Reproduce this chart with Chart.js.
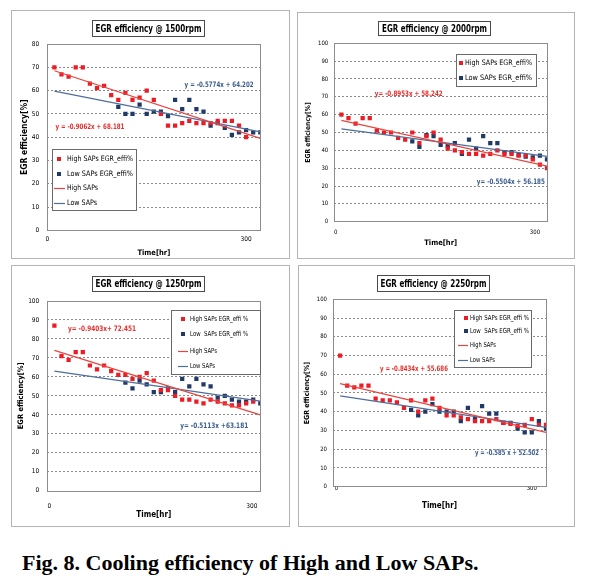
<!DOCTYPE html>
<html>
<head>
<meta charset="utf-8">
<script src="https://cdn.jsdelivr.net/npm/chart.js@4.4.1/dist/chart.umd.min.js"></script>
<style>
  html, body { margin: 0; padding: 0; background: #fff; }
  #page { position: relative; width: 594px; height: 588px; overflow: hidden; background: #fff; }
  .panel { position: absolute; }
  #caption { position: absolute; left: 22px; top: 552px; font: bold 22px 'Liberation Serif', 'Times New Roman', serif; line-height: 22px; white-space: nowrap; color: #000; }
</style>
</head>
<body>
<div id="page">
  <div class="panel" style="left:11px;top:10px;width:279px;height:249px"><canvas id="c1500"></canvas></div>
  <div class="panel" style="left:297px;top:12px;width:278px;height:247px"><canvas id="c2000"></canvas></div>
  <div class="panel" style="left:11px;top:265px;width:279px;height:262px"><canvas id="c1250"></canvas></div>
  <div class="panel" style="left:298px;top:265px;width:277px;height:262px"><canvas id="c2250"></canvas></div>
  <div id="caption">Fig. 8. Cooling efficiency of High and Low SAPs.</div>
</div>
<script>
// measurement times (hr)
const hours = [10, 20, 30, 40, 50, 60, 70, 80, 90, 100, 110, 120, 130, 140, 150,
               160, 170, 180, 190, 200, 210, 220, 230, 240, 250, 260, 270, 280, 290, 300];

// EGR efficiency [%], null = no point at that time
const high1500 = [70, 67, 66, 70, 70, 63, 61, 62, 58, 56, 59, 56, 57, 60, 56,
                  50, 45, 45, 46, 47, 46, 46, 46, 47, 47, 47, 45, 40, null, null];
const low1500 = [null, null, null, null, null, null, null, null, null, 53, 50, 50, 54, 50, 51,
                 51, 49, 56, 52, 56, 52, 51, 45, 46, 44, 41, 42, 43, 42, 42];

const high2000 = [60, 58, 55, 58, 58, 51, 50, 50, 47, 46, 50, 44, 48, 50, 46,
                  41, 40, 39, 38, 38, 37, 38, 40, 38, 38, 37, 37, 35, 32, 30];
const low2000 = [null, null, null, null, null, null, null, null, null, null, 45, 42, 48.5, 48, 43,
                 42.5, 44, 38, 46, 41, 48, 44, 44, 39, 39, 37.5, 36.5, 36, 37, 35];

const high1250 = [87, 71, 69, 73, 73, 66, 64, 66, 63, 61, 61, 59, 60, 62, 58,
                  53, 53, 50, 48, 48, 47, 46, 48, 47, 46, 45, 45, 46, 47, null];
const low1250 = [null, null, null, null, null, null, null, null, null, null, 57, 54, 58, 56, 52,
                 52, 54, 52, 59, 55, 59, 56, 55, 49, 50, 48, 47, 47, 48, 46];

const high2250 = [70, 54, 53, 54, 54, 47, 46, 46, 45, 42, 46, 40, 46, 47, 42,
                  38, 38, 37, 36, 35, 35, 35, 36, 34, 33.5, 32.5, 33, 36, 33, 33];
const low2250 = [null, null, null, null, null, null, null, null, null, null, 41, 38, 40, 44, 40,
                 40, 40, 35, 42, 36, 43, 39, 39, 34, 34, 31, 29, 29, 35, 31];

// linear trend lines, value at first and last time
const trendHours = [10, 300];
const highTrend1500 = [68.5, 39.5];
const lowTrend1500 = [59.8, 42.3];
const highTrend2000 = [56.8, 31.1];
const lowTrend2000 = [52, 36.6];
const highTrend1250 = [74, 40];
const lowTrend1250 = [63, 47.2];
const highTrend2250 = [55, 29];
const lowTrend2250 = [48.5, 31.7];

const eq1500 = ['y = -0.9062x + 68.181', 'y = -0.5774x + 64.202'];
const eq2000 = ['y= -0.8953x + 58.242', 'y= -0.5504x + 56.185'];
const eq1250 = ['y= -0.9403x+ 72.451', 'y= -0.5113x +63.181'];
const eq2250 = ['y = -0.8434x + 55.686', 'y = -0.585 x + 52.502'];

const xTickLabels = ['0', '300'];
const yStep = 10;

const RED = '#ec1c24', NAVY = '#1f3a68';
const RED_LINE = '#e8453f', BLUE_LINE = '#4f6e9c';
const FONT = "'Liberation Sans Narrow', 'DejaVu Sans Condensed', 'Liberation Sans', Arial, sans-serif";

function toPoints(xs, ys) {
  return xs.map((x, i) => ({ x: x, y: ys[i] })).filter(d => d.y !== null);
}

const panels = [
  { id: 'c1500', title: 'EGR efficiency @ 1500rpm', yMax: 80,
    high: high1500, low: low1500, highTrend: highTrend1500, lowTrend: lowTrend1500, eq: eq1500,
    names: ['High SAPs EGR_effi%', 'Low SAPs EGR_effi%', 'High SAPs', 'Low SAPs'],
    area: { l: 36.3, t: 34, r: 29.7, b: 28.7 }, xTicks: [0, 280], xTickPad: 5, xTitlePad: 1.6,
    yTickPad: 8, yTitlePad: 8.6, tickSize: 6.5, yTitleSize: 8.5, xTitleSize: 7.5,
    titleBox: { x: 81, y: 10, w: 112, h: 16, w2: 106 },
    legend: { x: 41, y: 139, w: 84, h: 61, rows: [149, 164, 178, 193], markX: 48, lx0: 43, lx1: 54, textX: 56, widths: [66, 66, 31, 30], size: 7.5 },
    eqAt: [[60, 44.4, 69], [242, 62.4, 69]] },
  { id: 'c2000', title: 'EGR efficiency @ 2000rpm', yMax: 100,
    high: high2000, low: low2000, highTrend: highTrend2000, lowTrend: lowTrend2000, eq: eq2000,
    names: ['High SAPs EGR_effi%', 'Low SAPs EGR_effi%'],
    area: { l: 37.3, t: 31.3, r: 28, b: 37.3 }, xTicks: [2, 283], xTickPad: 7, xTitlePad: 11.6,
    yTickPad: 6, yTitlePad: 7.6, tickSize: 6, yTitleSize: 6.8, xTitleSize: 7.5,
    titleBox: { x: 81, y: 9, w: 112, h: 14, w2: 105 },
    legend: { x: 159, y: 42, w: 80, h: 32, rows: [51, 66], markX: 164, lx0: 160, lx1: 168, textX: 168, widths: [67, 67], size: 7.5 },
    eqAt: [[105, 71.6, 68], [249, 22.3, 68]] },
  { id: 'c1250', title: 'EGR efficiency @ 1250rpm', yMax: 100,
    high: high1250, low: low1250, highTrend: highTrend1250, lowTrend: lowTrend1250, eq: eq1250,
    names: ['High SAPs EGR_effi %', 'Low  SAPs EGR_effi %', 'High SAPs', 'Low SAPs'],
    area: { l: 36.3, t: 36, r: 29.7, b: 36.3 }, xTicks: [3, 288], xTickPad: 12, xTitlePad: 6.9,
    yTickPad: 8, yTitlePad: 5.5, tickSize: 6.5, yTitleSize: 7.5, xTitleSize: 8,
    titleBox: { x: 81, y: 11, w: 112, h: 15, w2: 106 },
    legend: { x: 160, y: 45, w: 89, h: 64, rows: [54, 69, 86, 101], markX: 172, lx0: 167, lx1: 177, textX: 179, widths: [58, 58, 27, 25], size: 7 },
    eqAt: [[77, 85.2, 68], [235, 34.1, 68]] },
  { id: 'c2250', title: 'EGR efficiency @ 2250rpm', yMax: 100,
    high: high2250, low: low2250, highTrend: highTrend2250, lowTrend: lowTrend2250, eq: eq2250,
    names: ['High SAPs EGR_effi %', 'Low  SAPs EGR_effi %', 'High SAPs', 'Low SAPs'],
    area: { l: 35, t: 34.3, r: 29, b: 40.3 }, xTicks: [5, 280], xTickPad: -2, xTitlePad: 16.2,
    yTickPad: 6, yTitlePad: 4.8, tickSize: 6, yTitleSize: 7, xTitleSize: 8,
    titleBox: { x: 79, y: 10, w: 112, h: 16, w2: 106 },
    legend: { x: 156, y: 45, w: 77, h: 57, rows: [53, 66, 80, 95], markX: 168, lx0: 160, lx1: 170, textX: 172, widths: [59, 59, 26, 25], size: 7 },
    eqAt: [[114, 62.8, 68], [245, 18, 64]] }
];

function makeDecor(p) {
  return {
    id: 'decor',
    beforeDraw(chart) {
      const ctx = chart.ctx;
      ctx.save();
      ctx.fillStyle = '#fff';
      ctx.fillRect(0, 0, chart.width, chart.height);
      ctx.strokeStyle = '#b4b4b4';
      ctx.lineWidth = 1;
      ctx.strokeRect(0.5, 0.5, chart.width - 1, chart.height - 1);
      ctx.restore();
    },
    afterDatasetsDraw(chart) {
      const { ctx, chartArea: a, scales } = chart;
      ctx.save();
      // plot frame
      ctx.strokeStyle = '#8c8c8c';
      ctx.lineWidth = 1;
      ctx.strokeRect(Math.round(a.left) + 0.5, Math.round(a.top) + 0.5,
                     Math.round(a.right - a.left), Math.round(a.bottom - a.top));

      // trend equations
      ctx.textAlign = 'center';
      ctx.textBaseline = 'middle';
      ctx.font = 'bold 7.5px ' + FONT;
      ['#e5302d', '#3b5c8e'].forEach((c, i) => {
        const at = p.eqAt[i];
        ctx.fillStyle = c;
        ctx.fillText(p.eq[i], scales.x.getPixelForValue(at[0]), scales.y.getPixelForValue(at[1]), at[2]);
      });

      // boxed title
      const t = p.titleBox;
      ctx.fillStyle = '#fff';
      ctx.fillRect(t.x, t.y, t.w, t.h);
      ctx.strokeStyle = '#4a4a4a';
      ctx.strokeRect(t.x + 0.5, t.y + 0.5, t.w, t.h);
      ctx.fillStyle = '#000';
      ctx.font = 'bold 10.5px ' + FONT;
      ctx.fillText(p.title, t.x + t.w / 2 + 0.5, t.y + t.h / 2 + 1, t.w2);

      // legend
      const L = p.legend;
      ctx.fillStyle = '#fff';
      ctx.fillRect(L.x, L.y, L.w, L.h);
      ctx.strokeStyle = '#6a6a6a';
      ctx.strokeRect(L.x + 0.5, L.y + 0.5, L.w, L.h);
      ctx.textAlign = 'left';
      ctx.font = L.size + 'px ' + FONT;
      p.names.forEach((name, i) => {
        const y = L.rows[i];
        if (i < 2) {
          ctx.fillStyle = i === 0 ? RED : NAVY;
          ctx.fillRect(L.markX - 2, y - 2, 4, 4);
        } else {
          ctx.strokeStyle = i === 2 ? RED_LINE : BLUE_LINE;
          ctx.lineWidth = 1.2;
          ctx.beginPath();
          ctx.moveTo(L.lx0, y + 0.5);
          ctx.lineTo(L.lx1, y + 0.5);
          ctx.stroke();
        }
        ctx.fillStyle = '#000';
        ctx.fillText(name, L.textX, y + 0.5, L.widths[i]);
      });
      ctx.restore();
    }
  };
}

panels.forEach(p => {
  new Chart(document.getElementById(p.id), {
    type: 'scatter',
    data: {
      datasets: [
        { label: 'High SAPs', type: 'line', data: toPoints(trendHours, p.highTrend),
          borderColor: RED_LINE, borderWidth: 1.2, pointRadius: 0, fill: false, order: 0 },
        { label: 'Low SAPs', type: 'line', data: toPoints(trendHours, p.lowTrend),
          borderColor: BLUE_LINE, borderWidth: 1.2, pointRadius: 0, fill: false, order: 0 },
        { label: p.names[0], data: toPoints(hours, p.high), pointStyle: 'rect', pointRadius: 3,
          backgroundColor: RED, borderWidth: 0, order: 1 },
        { label: p.names[1], data: toPoints(hours, p.low), pointStyle: 'rect', pointRadius: 3,
          backgroundColor: NAVY, borderWidth: 0, order: 1 }
      ]
    },
    options: {
      responsive: true,
      maintainAspectRatio: false,
      animation: false,
      events: [],
      layout: { padding: { left: 0, top: p.area.t, right: p.area.r, bottom: 0 } },
      plugins: { legend: { display: false }, tooltip: { enabled: false } },
      scales: {
        x: {
          type: 'linear', min: 0, max: 300,
          afterFit: s => { s.height = p.area.b; },
          afterBuildTicks: s => { s.ticks = p.xTicks.map(v => ({ value: v })); },
          ticks: { callback: (v, i) => xTickLabels[i], autoSkip: false, maxRotation: 0,
                   padding: p.xTickPad, color: '#000', font: { family: FONT, size: p.tickSize } },
          grid: { display: false, drawTicks: false },
          border: { display: false },
          title: { display: true, text: 'Time[hr]', color: '#000',
                   padding: { top: 0, bottom: p.xTitlePad },
                   font: { family: FONT, size: p.xTitleSize, weight: 'bold' } }
        },
        y: {
          min: 0, max: p.yMax,
          afterFit: s => { s.width = p.area.l; },
          ticks: { stepSize: yStep, padding: p.yTickPad, color: '#000',
                   font: { family: FONT, size: p.tickSize } },
          grid: { drawTicks: false, lineWidth: 1,
                  color: c => (c.tick.value === 0 || c.tick.value === p.yMax) ? 'rgba(0,0,0,0)' : '#8a8a8a' },
          border: { display: false, dash: [2, 2] },
          title: { display: true, text: 'EGR efficiency[%]', color: '#000',
                   padding: { top: p.yTitlePad, bottom: 0 },
                   font: { family: FONT, size: p.yTitleSize, weight: 'bold' } }
        }
      }
    },
    plugins: [makeDecor(p)]
  });
});
</script>
</body>
</html>
